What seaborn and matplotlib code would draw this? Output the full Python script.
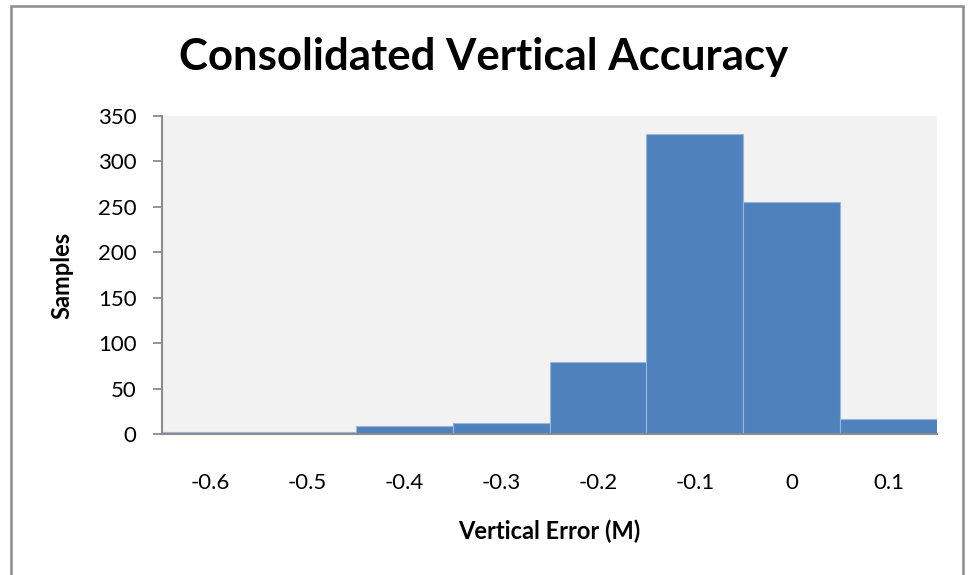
"""Consolidated vertical accuracy histogram"""
import pandas as pd
import matplotlib
matplotlib.use('Agg')
import matplotlib.pyplot as plt
import seaborn as sns

# Data
bin_labels = ['-0.6', '-0.5', '-0.4', '-0.3', '-0.2', '-0.1', '0', '0.1']
sample_counts = [2, 2, 9, 12, 79, 330, 255, 17]
y_ticks = [0, 50, 100, 150, 200, 250, 300, 350]

sns.set_theme(style='white')
plt.rcParams['font.family'] = ['Lato', 'DejaVu Sans']
plt.rcParams['text.color'] = 'black'
plt.rcParams['xtick.color'] = 'black'
plt.rcParams['ytick.color'] = 'black'

df = pd.DataFrame({'bin': bin_labels, 'samples': sample_counts})

fig = plt.figure(figsize=(9.68, 5.75), dpi=100)
ax = fig.add_axes([0.1674, 0.2452, 0.8006, 0.5531])
ax.set_facecolor('#F2F2F2')

sns.barplot(data=df, x='bin', y='samples', order=bin_labels, color='#4F81BD',
            width=1.0, saturation=1, edgecolor='#9DB5D8', linewidth=0.8, ax=ax)

ax.set_xlim(-0.5, len(bin_labels) - 0.5)
ax.set_ylim(0, 350)
ax.set_yticks(y_ticks)

for side in ['top', 'right']:
    ax.spines[side].set_visible(False)
for side in ['left', 'bottom']:
    ax.spines[side].set_color('#8C8C8C')
    ax.spines[side].set_linewidth(1.5)

ax.tick_params(axis='y', direction='out', length=6.5, width=1.3, color='#8C8C8C',
               labelsize=16, pad=12, left=True, labelcolor='black')
ax.tick_params(axis='x', length=0, labelsize=16, pad=28, labelcolor='black')

ax.set_xlabel('Vertical Error (M)', fontsize=17, fontweight='bold', color='black')
ax.set_ylabel('Samples', fontsize=17, fontweight='bold', color='black')
ax.xaxis.label.set_va('center')
ax.yaxis.label.set_va('center')
ax.xaxis.set_label_coords(0.5, -0.305)
ax.yaxis.set_label_coords(-0.129, 0.5)

fig.text(0.5, 0.901, 'Consolidated Vertical Accuracy', ha='center', va='center',
         fontsize=31.5, fontweight='bold', color='black')

# Chart frame
frame = plt.Rectangle((0.0114, -0.05), 0.983, 1.04, transform=fig.transFigure,
                      fill=False, edgecolor='#8C8C8C', linewidth=1.8)
fig.patches.append(frame)

fig.savefig('out.png', dpi=100)
plt.close(fig)
